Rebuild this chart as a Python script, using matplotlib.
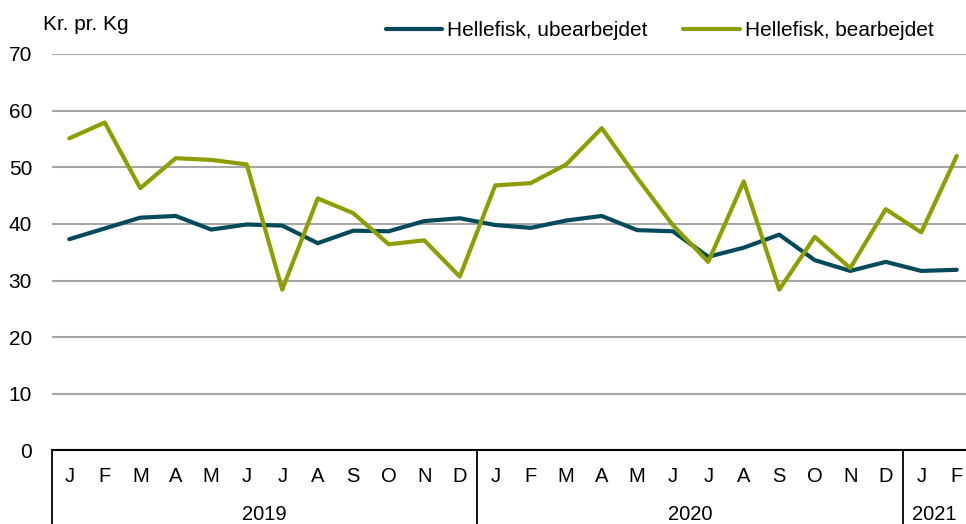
import matplotlib
matplotlib.use("Agg")
import matplotlib.pyplot as plt

# monthly prices, Jan 2019 - Feb 2021
months = ["J", "F", "M", "A", "M", "J", "J", "A", "S", "O", "N", "D"] * 2 + ["J", "F"]
years = ["2019", "2020", "2021"]
year_spans = [(0, 11), (12, 23), (24, 25)]
ubearbejdet = [37.3, 39.2, 41.1, 41.4, 39.0, 39.9, 39.7, 36.6, 38.8, 38.7, 40.5, 41.0,
               39.8, 39.3, 40.6, 41.4, 38.9, 38.7, 34.2, 35.8, 38.1, 33.6, 31.7, 33.3,
               31.7, 31.9]
bearbejdet = [55.1, 57.9, 46.3, 51.6, 51.3, 50.5, 28.4, 44.5, 41.9, 36.4, 37.1, 30.7,
              46.8, 47.2, 50.5, 56.9, 48.1, 39.8, 33.3, 47.5, 28.4, 37.7, 32.2, 42.6,
              38.5, 52.0]

BLUE = "#034A5C"
GREEN = "#8E9E00"

plt.rcParams["font.family"] = ["Liberation Sans", "DejaVu Sans"]

fig = plt.figure(figsize=(9.66, 5.24), dpi=100)
left_px = 51.5
ax = fig.add_axes([left_px / 966, 0.1403, 1 - left_px / 966, 0.7567])

x = list(range(len(months)))
ax.plot(x, ubearbejdet, color=BLUE, lw=3, label="Hellefisk, ubearbejdet", solid_capstyle="round")
ax.plot(x, bearbejdet, color=GREEN, lw=3, label="Hellefisk, bearbejdet", solid_capstyle="round")

# the last category runs past the right edge of the picture, as in the original
x_right = (966 - left_px) / 35.5 - 0.5
ax.set_xlim(-0.5, x_right)
ax.set_ylim(0, 70)
ax.set_yticks(range(0, 71, 10))
ax.yaxis.grid(True, color="#A6A6A6", lw=1.5)
ax.set_axisbelow(True)
for s in ["left", "right", "top"]:
    ax.spines[s].set_visible(False)
ax.spines["bottom"].set_color("black")
ax.spines["bottom"].set_linewidth(1.5)
ax.spines["bottom"].set_zorder(1)
ax.tick_params(axis="y", length=0, pad=14, labelsize=15)
ax.tick_params(axis="x", length=0)
ax.set_xticks([])

# month and year labels under the axis
for i, m in enumerate(months):
    ax.text(i, -0.065, m, transform=ax.get_xaxis_transform(), ha="center", va="center",
            fontsize=14.5, clip_on=False)
for yr, (a, b) in zip(years, year_spans):
    xc = (a - 0.5 + min(b + 0.5, x_right)) / 2
    ax.text(xc, -0.161, yr, transform=ax.get_xaxis_transform(), ha="center", va="center",
            fontsize=14.5, clip_on=False)
for a, b in year_spans:
    ax.plot([a - 0.5, a - 0.5], [0, -0.2], transform=ax.get_xaxis_transform(), color="black",
            lw=1.3, clip_on=False)

fig.text(43 / 966, 1 - 24 / 524, "Kr. pr. Kg", ha="left", va="center", fontsize=15)

ax.legend(loc="center left", bbox_to_anchor=(386 / 966, 1 - 31 / 524), bbox_transform=fig.transFigure,
          ncol=2, frameon=False, fontsize=15, handlelength=2.7, handletextpad=0.25,
          columnspacing=1.7, borderpad=0, borderaxespad=0)

fig.savefig("out.png", dpi=100)
